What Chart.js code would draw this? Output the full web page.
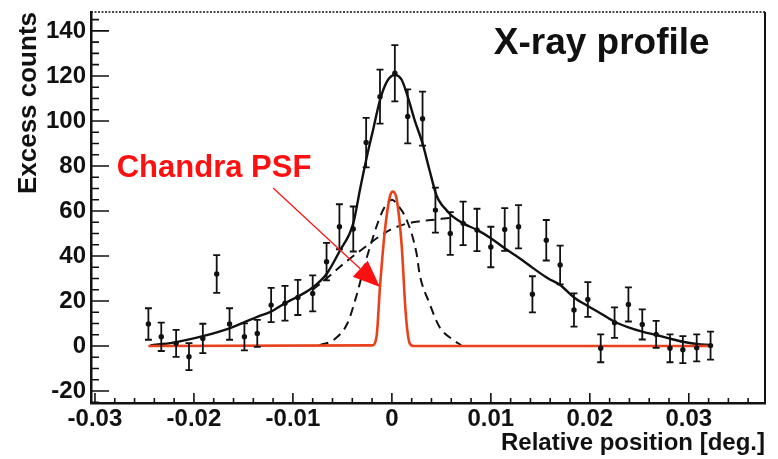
<!DOCTYPE html>
<html>
<head>
<meta charset="utf-8">
<title>X-ray profile</title>
<script src="https://cdn.jsdelivr.net/npm/chart.js@4.4.1/dist/chart.umd.min.js"></script>
<style>
  html, body { margin: 0; padding: 0; background: #fff; }
</style>
</head>
<body>
<canvas id="chart" width="778" height="459"></canvas>
<script>
// Messpunkte: relative Position [deg.], Excess counts, Fehler
const pointX = [-0.0246, -0.0233, -0.0218, -0.0205, -0.0191, -0.0177, -0.0164, -0.0149, -0.0136, -0.0122,
                -0.0108, -0.0095, -0.0080, -0.0066, -0.0053, -0.0039, -0.0026, -0.0012, 0.0003, 0.0016,
                0.0031, 0.0044, 0.0059, 0.0072, 0.0086, 0.0100, 0.0114, 0.0128, 0.0142, 0.0156,
                0.0170, 0.0184, 0.0198, 0.0211, 0.0225, 0.0239, 0.0253, 0.0267, 0.0281, 0.0294,
                0.0308, 0.0322];
const pointY = [9.8, 4.1, 1.2, -4.7, 3.4, 32, 9.8, 4.1, 5.6, 18.2,
                19, 21.6, 23.4, 37.5, 53, 52, 90.4, 110.8, 121.2, 102,
                101, 60.4, 50, 54.5, 51.6, 44, 51.8, 53, 23, 47,
                36, 16, 20.7, -1, 10.4, 18.5, 9.6, 5.2, -1, -1.6,
                -0.8, 0.2];
const pointErr = [7, 6.3, 6, 6, 6.5, 8.4, 7, 6, 6, 7.6,
                  7.7, 7.8, 8, 8.3, 10, 10, 11, 12, 12.5, 12,
                  12, 10, 9.5, 9.7, 9.4, 9, 9.5, 9.6, 8, 9,
                  8.6, 7.4, 7.7, 6.2, 6.8, 7.6, 6.7, 6, 6.2, 6,
                  6, 6.2];

// Gesamtfit (durchgezogen)
const fitX = [-0.0244, -0.0221, -0.0191, -0.0164, -0.0136, -0.0122, -0.0108, -0.0095, -0.0080, -0.0066,
              -0.0053, -0.0039, -0.0032, -0.0026, -0.0019, -0.0012, -0.0005, 0.0003, 0.0010, 0.0016,
              0.0023, 0.0031, 0.0038, 0.0045, 0.0050, 0.0055, 0.0059, 0.0072, 0.0086, 0.0100,
              0.0114, 0.0129, 0.0143, 0.0158, 0.0170, 0.0184, 0.0198, 0.0211, 0.0225, 0.0239,
              0.0253, 0.0267, 0.0280, 0.0294, 0.0308, 0.0322];
const fitY = [0.3, 1.5, 4.4, 7.9, 13, 15.3, 19, 22, 26, 32,
              42, 54.5, 70, 82.7, 96, 109.3, 117.5, 120.4, 118.2, 110.8,
              100.4, 90, 78.2, 67, 63, 60.5, 58.5, 54.5, 51.6, 47.9,
              43.4, 39, 34.5, 30, 27.1, 21.6, 17.8, 14.5, 10.8, 8.3,
              6.4, 4.9, 3.4, 1.9, 0.9, 0.4];

// Schmale Komponente (gestrichelt)
const narrowX = [-0.0073, -0.0059, -0.0045, -0.0036, -0.0027, -0.0021, -0.0014, -0.0007, 0, 0.0007,
                 0.0015, 0.0025, 0.0028, 0.0038, 0.0048, 0.0062, 0.0070];
const narrowY = [0.4, 2.7, 10, 22, 36.8, 45.6, 55, 62, 65, 62,
                 56, 41, 32, 19, 8.6, 2.7, 0.4];

// Breite Komponente (gestrichelt, nur im Zentrum sichtbar)
const broadX = [-0.0080, -0.0066, -0.0053, -0.0039, -0.0027, -0.0015, 0, 0.0018, 0.0030, 0.0040,
                0.0050, 0.0060];
const broadY = [25, 30, 35, 40, 44, 48, 52, 54.7, 55.5, 56,
                56.5, 57];

// Chandra PSF (rot)
const psfX = [-0.0246, -0.0020, -0.00155, -0.0012, -0.0007, -0.0002, 0.0001, 0.0005, 0.0010, 0.0014,
              0.0018, 0.0022, 0.0322];
const psfY = [0, 0.3, 4.1, 26.4, 51.6, 66.4, 68.6, 64.9, 44.1, 14.5,
              1.2, 0, 0];

// Achsen
const xTickValues = [-0.03, -0.02, -0.01, 0, 0.01, 0.02, 0.03];
const xTickLabels = ['-0.03', '-0.02', '-0.01', '0', '0.01', '0.02', '0.03'];
const yTickValues = [-20, 0, 20, 40, 60, 80, 100, 120, 140];
const yTickLabels = ['-20', '0', '20', '40', '60', '80', '100', '120', '140'];

const FONT = '"Liberation Sans", Arial, Helvetica, sans-serif';
const INK = '#111';
const RED = '#ff1010';

const toXY = (xs, ys) => xs.map((x, i) => ({ x: x, y: ys[i] }));

/**
 * Zeichnet Rahmen, nach innen zeigende Ticks, Fehlerbalken und Beschriftungen.
 */
const profilePlugin = {
    id: 'profile',
    beforeDatasetsDraw(chart) {
        const { ctx, chartArea: a, scales: { x, y } } = chart;
        ctx.save();
        ctx.strokeStyle = INK;

        // Oberer Rahmen (gepunktet) und rechter Rahmen
        ctx.lineWidth = 1.5;
        ctx.setLineDash([2, 1.5]);
        ctx.beginPath();
        ctx.moveTo(a.left, a.top);
        ctx.lineTo(a.right, a.top);
        ctx.stroke();
        ctx.setLineDash([]);
        ctx.lineWidth = 2;
        ctx.beginPath();
        ctx.moveTo(a.right, a.top);
        ctx.lineTo(a.right, a.bottom);
        ctx.stroke();

        // Ticks der x-Achse (Haupt 0.01, Neben 0.002)
        ctx.lineWidth = 1.6;
        ctx.beginPath();
        for (let k = -15; k <= 18; k++) {
            const v = k * 0.002;
            const px = x.getPixelForValue(v);
            const len = (k % 5 === 0) ? 10 : 5;
            ctx.moveTo(px, a.bottom);
            ctx.lineTo(px, a.bottom - len);
        }
        // Ticks der y-Achse (Haupt 20, Neben 5)
        for (let v = -25; v <= 145; v += 5) {
            const py = y.getPixelForValue(v);
            const len = (v % 20 === 0) ? 18 : 8;
            ctx.moveTo(a.left, py);
            ctx.lineTo(a.left + len, py);
        }
        ctx.stroke();
        ctx.restore();
    },
    afterDatasetsDraw(chart) {
        const { ctx, scales: { x, y } } = chart;
        ctx.save();
        ctx.strokeStyle = INK;
        ctx.lineWidth = 1.8;
        ctx.beginPath();
        pointX.forEach((xv, i) => {
            const px = x.getPixelForValue(xv);
            const top = y.getPixelForValue(pointY[i] + pointErr[i]);
            const bot = y.getPixelForValue(pointY[i] - pointErr[i]);
            ctx.moveTo(px, top);
            ctx.lineTo(px, bot);
            ctx.moveTo(px - 3.5, top);
            ctx.lineTo(px + 3.5, top);
            ctx.moveTo(px - 3.5, bot);
            ctx.lineTo(px + 3.5, bot);
        });
        ctx.stroke();
        ctx.restore();
    },
    afterDraw(chart) {
        const { ctx, scales: { x, y } } = chart;
        ctx.save();

        // Pfeil auf die PSF
        const x0 = x.getPixelForValue(-0.0120), y0 = y.getPixelForValue(70.2);
        const x1 = x.getPixelForValue(-0.0012), y1 = y.getPixelForValue(26.2);
        const ang = Math.atan2(y1 - y0, x1 - x0);
        const headLen = 27, headHalf = 11;
        const bx = x1 - headLen * Math.cos(ang), by = y1 - headLen * Math.sin(ang);
        ctx.strokeStyle = RED;
        ctx.fillStyle = RED;
        ctx.lineWidth = 1.2;
        ctx.beginPath();
        ctx.moveTo(x0, y0);
        ctx.lineTo(bx, by);
        ctx.stroke();
        ctx.beginPath();
        ctx.moveTo(x1, y1);
        ctx.lineTo(bx + headHalf * Math.sin(ang), by - headHalf * Math.cos(ang));
        ctx.lineTo(bx - headHalf * Math.sin(ang), by + headHalf * Math.cos(ang));
        ctx.closePath();
        ctx.fill();

        // Texte
        ctx.textBaseline = 'alphabetic';
        ctx.font = `bold 31px ${FONT}`;
        ctx.textAlign = 'left';
        ctx.fillStyle = RED;
        ctx.fillText('Chandra PSF', x.getPixelForValue(-0.0278), y.getPixelForValue(75.1));
        ctx.font = `bold 37px ${FONT}`;
        ctx.fillStyle = INK;
        ctx.textAlign = 'center';
        ctx.fillText('X-ray profile', x.getPixelForValue(0.0212), y.getPixelForValue(129.8));
        ctx.restore();
    }
};

const tickFont = { family: FONT, size: 24, weight: 'bold' };

new Chart(document.getElementById('chart'), {
    type: 'scatter',
    data: {
        datasets: [
            {
                label: 'Daten',
                data: toXY(pointX, pointY),
                pointRadius: 2.7,
                pointBackgroundColor: INK,
                pointBorderWidth: 0,
                showLine: false,
                order: 0
            },
            {
                label: 'PSF',
                data: toXY(psfX, psfY),
                showLine: true,
                borderColor: '#e8421c',
                borderWidth: 2.6,
                pointRadius: 0,
                cubicInterpolationMode: 'monotone',
                order: 1
            },
            {
                label: 'Fit',
                data: toXY(fitX, fitY),
                showLine: true,
                borderColor: INK,
                borderWidth: 2.4,
                pointRadius: 0,
                cubicInterpolationMode: 'monotone',
                order: 2
            },
            {
                label: 'Schmal',
                data: toXY(narrowX, narrowY),
                showLine: true,
                borderColor: INK,
                borderWidth: 2,
                borderDash: [9, 6],
                pointRadius: 0,
                cubicInterpolationMode: 'monotone',
                order: 3
            },
            {
                label: 'Breit',
                data: toXY(broadX, broadY),
                showLine: true,
                borderColor: INK,
                borderWidth: 2,
                borderDash: [9, 6],
                pointRadius: 0,
                cubicInterpolationMode: 'monotone',
                order: 4
            }
        ]
    },
    options: {
        responsive: false,
        devicePixelRatio: 1,
        animation: false,
        layout: { padding: { top: 12, right: 13, left: 0, bottom: 0 } },
        plugins: { legend: { display: false }, tooltip: { enabled: false } },
        scales: {
            x: {
                type: 'linear',
                position: 'bottom',
                min: -0.0304,
                max: 0.0377,
                grid: { display: false, drawTicks: false },
                border: { display: true, color: INK, width: 2.5 },
                ticks: {
                    font: tickFont,
                    color: INK,
                    padding: 2,
                    maxRotation: 0,
                    autoSkip: false,
                    callback: (v, i) => xTickLabels[i]
                },
                title: {
                    display: true,
                    text: 'Relative position [deg.]',
                    align: 'end',
                    color: INK,
                    font: { family: FONT, size: 24, weight: 'bold' },
                    padding: { top: 0, bottom: 1 }
                },
                afterBuildTicks: s => { s.ticks = xTickValues.map(v => ({ value: v })); },
                afterFit: s => { s.height = 56; s.paddingLeft = 0; s.paddingRight = 0; }
            },
            y: {
                type: 'linear',
                position: 'left',
                min: -25.3,
                max: 148.4,
                grid: { display: false, drawTicks: false },
                border: { display: true, color: INK, width: 2.5 },
                ticks: {
                    font: tickFont,
                    color: INK,
                    padding: 5,
                    autoSkip: false,
                    callback: (v, i) => yTickLabels[i]
                },
                title: {
                    display: true,
                    text: 'Excess counts',
                    align: 'end',
                    color: INK,
                    font: { family: FONT, size: 26, weight: 'bold' },
                    padding: { top: 13, bottom: 0 }
                },
                afterBuildTicks: s => { s.ticks = yTickValues.map(v => ({ value: v })); },
                afterFit: s => { s.width = 91; s.paddingTop = 0; s.paddingBottom = 0; }
            }
        }
    },
    plugins: [profilePlugin]
});
</script>
</body>
</html>
